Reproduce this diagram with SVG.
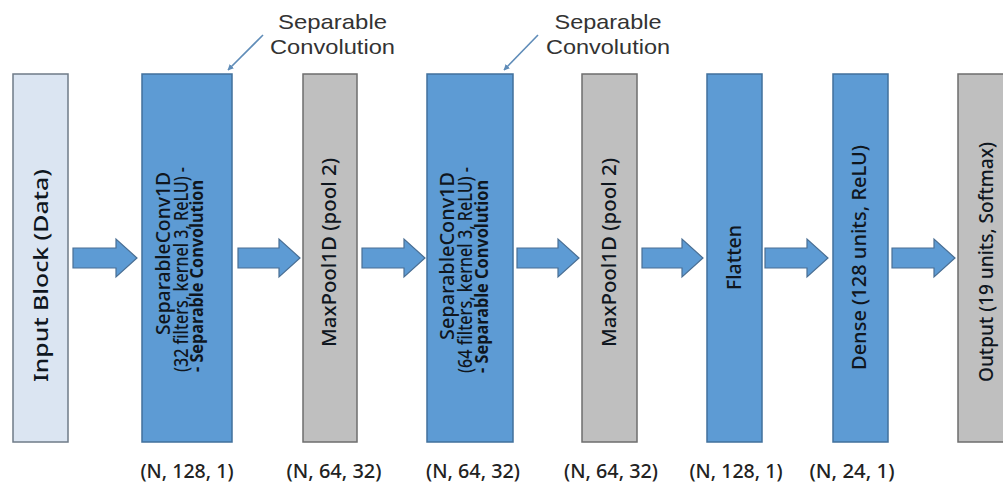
<svg xmlns="http://www.w3.org/2000/svg" width="1003" height="485" viewBox="0 0 1003 485">
<defs>
<style>
.blue{fill:#5d9bd4;stroke:#41709c;stroke-width:1.5}
.gray{fill:#bfbfbf;stroke:#6e6e6e;stroke-width:1.5}
.input{fill:#dbe5f2;stroke:#6f7b88;stroke-width:1.5}
.t{font-family:"Noto Sans","Open Sans","Liberation Sans",sans-serif;fill:#0f161e;font-size:20px;font-weight:500}
.tb{font-family:"Noto Sans","Open Sans","Liberation Sans",sans-serif;fill:#0f161e;font-size:17px;font-weight:bold}
.dim{font-family:"Noto Sans","Open Sans","Liberation Sans",sans-serif;fill:#222222;font-size:19px;text-anchor:middle;font-weight:500}
.ann{font-family:"Liberation Sans",Arial,sans-serif;fill:#333333;font-size:21px;text-anchor:middle}
.barrow{fill:#5d9bd4;stroke:#4a6f94;stroke-width:1.2}
.lead{stroke:#5f8cb8;stroke-width:1.6;fill:none}
</style>
<marker id="ah" viewBox="0 0 10 10" refX="9" refY="5" markerWidth="6" markerHeight="6" orient="auto" markerUnits="userSpaceOnUse">
<path d="M0,0 L10,5 L0,10 Z" fill="#5f8cb8"/>
</marker>
</defs>
<rect width="1003" height="485" fill="#ffffff"/>

<g id="connectors">
<path class="barrow" d="M73,248 H116 V239 L137,258 L116,277 V268 H73 Z"/>
<path class="barrow" d="M238,248 H279 V239 L300,258 L279,277 V268 H238 Z"/>
<path class="barrow" d="M362,248 H404 V239 L425,258 L404,277 V268 H362 Z"/>
<path class="barrow" d="M517,248 H558 V239 L579,258 L558,277 V268 H517 Z"/>
<path class="barrow" d="M642,248 H682 V239 L703,258 L682,277 V268 H642 Z"/>
<path class="barrow" d="M765,248 H807 V239 L828,258 L807,277 V268 H765 Z"/>
<path class="barrow" d="M892,248 H934 V239 L955,258 L934,277 V268 H892 Z"/>
<line class="lead" x1="263" y1="35" x2="228" y2="70" marker-end="url(#ah)"/>
<line class="lead" x1="538" y1="35" x2="504" y2="70" marker-end="url(#ah)"/>
</g>

<g id="annotation1">
<text class="ann" x="332.5" y="29" textLength="109" lengthAdjust="spacingAndGlyphs">Separable</text>
<text class="ann" x="332.5" y="54" textLength="125" lengthAdjust="spacingAndGlyphs">Convolution</text>
</g>
<g id="annotation2">
<text class="ann" x="608" y="29" textLength="107" lengthAdjust="spacingAndGlyphs">Separable</text>
<text class="ann" x="608" y="54" textLength="124" lengthAdjust="spacingAndGlyphs">Convolution</text>
</g>

<g id="input">
<rect class="input" x="13" y="74" width="55" height="368"/>
<text class="t" font-size="21" transform="translate(48,382) rotate(-90)" textLength="213" lengthAdjust="spacingAndGlyphs">Input Block (Data)</text>
</g>

<g id="sepconv1">
<rect class="blue" x="142" y="74" width="90" height="368"/>
<text class="t" font-size="21" transform="translate(170,335) rotate(-90)" textLength="163" lengthAdjust="spacingAndGlyphs">SeparableConv1D</text>
<text class="t" font-size="21" transform="translate(188,372) rotate(-90)" textLength="205" lengthAdjust="spacingAndGlyphs">(32 filters, kernel 3, ReLU) -</text>
<text class="tb" transform="translate(203,372) rotate(-90)" textLength="192" lengthAdjust="spacingAndGlyphs">- Separable Convolution</text>
<text class="dim" x="187" y="478" textLength="93" lengthAdjust="spacingAndGlyphs">(N, 128, 1)</text>
</g>

<g id="maxpool1">
<rect class="gray" x="303" y="74" width="54" height="368"/>
<text class="t" transform="translate(336,347) rotate(-90)" textLength="189" lengthAdjust="spacingAndGlyphs">MaxPool1D (pool 2)</text>
<text class="dim" x="334" y="478" textLength="95" lengthAdjust="spacingAndGlyphs">(N, 64, 32)</text>
</g>

<g id="sepconv2">
<rect class="blue" x="427" y="74" width="86" height="368"/>
<text class="t" font-size="21" transform="translate(454,340) rotate(-90)" textLength="168" lengthAdjust="spacingAndGlyphs">SeparableConv1D</text>
<text class="t" font-size="21" transform="translate(472,373) rotate(-90)" textLength="206" lengthAdjust="spacingAndGlyphs">(64 filters, kernel 3, ReLU) -</text>
<text class="tb" transform="translate(488,373) rotate(-90)" textLength="193" lengthAdjust="spacingAndGlyphs">- Separable Convolution</text>
<text class="dim" x="473" y="478" textLength="94" lengthAdjust="spacingAndGlyphs">(N, 64, 32)</text>
</g>

<g id="maxpool2">
<rect class="gray" x="582" y="74" width="55" height="368"/>
<text class="t" transform="translate(616,347) rotate(-90)" textLength="189" lengthAdjust="spacingAndGlyphs">MaxPool1D (pool 2)</text>
<text class="dim" x="611" y="478" textLength="94" lengthAdjust="spacingAndGlyphs">(N, 64, 32)</text>
</g>

<g id="flatten">
<rect class="blue" x="707" y="74" width="55" height="368"/>
<text class="t" transform="translate(741,290) rotate(-90)" textLength="65" lengthAdjust="spacingAndGlyphs">Flatten</text>
<text class="dim" x="736" y="478" textLength="93" lengthAdjust="spacingAndGlyphs">(N, 128, 1)</text>
</g>

<g id="dense">
<rect class="blue" x="833" y="74" width="55" height="368"/>
<text class="t" transform="translate(866,370) rotate(-90)" textLength="225" lengthAdjust="spacingAndGlyphs">Dense (128 units, ReLU)</text>
<text class="dim" x="852" y="478" textLength="85" lengthAdjust="spacingAndGlyphs">(N, 24, 1)</text>
</g>

<g id="output">
<rect class="gray" x="958" y="74" width="57" height="368"/>
<text class="t" transform="translate(993,382) rotate(-90)" textLength="240" lengthAdjust="spacingAndGlyphs">Output (19 units, Softmax)</text>
</g>
</svg>
